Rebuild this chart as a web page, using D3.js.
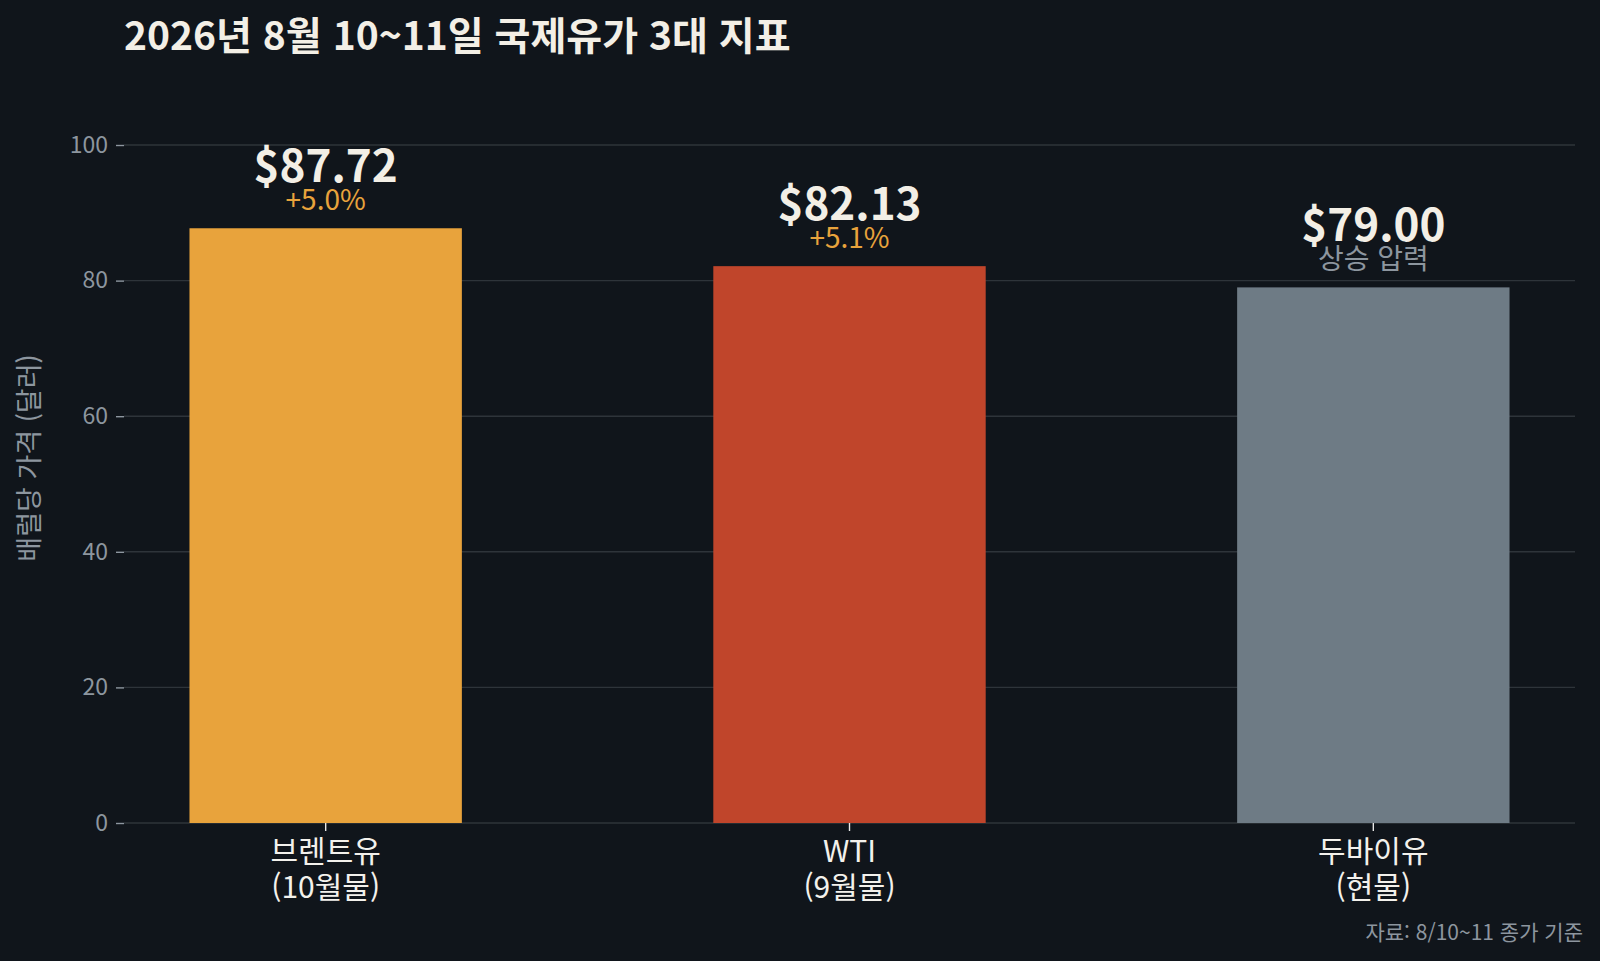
<!DOCTYPE html>
<html lang="ko">
<head>
    <meta charset="UTF-8">
    <title>2026년 8월 10~11일 국제유가 3대 지표</title>
    <script src="https://d3js.org/d3.v7.min.js"></script>
    <style>
        html, body {
            margin: 0;
            padding: 0;
            background: #10151b;
        }
        svg text {
            font-family: "Noto Sans CJK KR", "Noto Sans", sans-serif;
        }
    </style>
</head>
<body>
    <div id="chart"></div>

    <script>
        // chart data
        const categories = ["브렌트유\n(10월물)", "WTI\n(9월물)", "두바이유\n(현물)"];
        const prices = [87.72, 82.13, 79.00];
        const notes = ["+5.0%", "+5.1%", "상승 압력"];
        const yTicks = [0, 20, 40, 60, 80, 100];
        const barColors = ["#e8a33c", "#c0452b", "#6e7b85"];
        const noteColors = ["#e8a33c", "#e8a33c", "#8d969f"];

        const W = 1600, H = 961;
        const margin = { top: 145, right: 25, bottom: 138, left: 124 };

        const svg = d3.select("#chart").append("svg")
            .attr("width", W)
            .attr("height", H);

        svg.append("rect").attr("width", W).attr("height", H).attr("fill", "#10151b");

        const x = d3.scaleBand()
            .domain(d3.range(categories.length))
            .range([margin.left, W - margin.right])
            .paddingInner(0.48)
            .paddingOuter(0.125);

        const y = d3.scaleLinear()
            .domain([0, 100])
            .range([H - margin.bottom, margin.top]);

        // grid lines
        svg.append("g")
            .selectAll("line")
            .data(yTicks)
            .enter().append("line")
            .attr("x1", margin.left)
            .attr("x2", W - margin.right)
            .attr("y1", d => y(d))
            .attr("y2", d => y(d))
            .attr("stroke", "#2e343a")
            .attr("stroke-width", 1.4);

        // y axis
        const yAxis = svg.append("g")
            .attr("transform", `translate(${margin.left},0)`)
            .call(d3.axisLeft(y).tickValues(yTicks).tickSize(8).tickPadding(8));
        yAxis.select(".domain").remove();
        yAxis.selectAll(".tick line").attr("stroke", "#8d969f").attr("stroke-width", 1.4);
        yAxis.selectAll(".tick text")
            .attr("fill", "#8d969f")
            .style("font-size", "23px");

        // bars
        svg.append("g")
            .selectAll("rect")
            .data(prices)
            .enter().append("rect")
            .attr("x", (d, i) => x(i))
            .attr("y", d => y(d))
            .attr("width", x.bandwidth())
            .attr("height", d => y(0) - y(d))
            .attr("fill", (d, i) => barColors[i]);

        // x axis
        const xAxis = svg.append("g")
            .attr("transform", `translate(0,${y(0)})`)
            .call(d3.axisBottom(x).tickSize(8).tickFormat(""));
        xAxis.select(".domain").remove();
        xAxis.selectAll(".tick line").attr("stroke", "#e8e8e8").attr("stroke-width", 1.4);

        xAxis.selectAll(".tick")
            .append("text")
            .attr("fill", "#f3f1ec")
            .attr("text-anchor", "middle")
            .style("font-size", "30px")
            .selectAll("tspan")
            .data((d, i) => categories[i].split("\n"))
            .enter().append("tspan")
            .attr("x", 0)
            .attr("y", (d, j) => 39 + j * 36)
            .text(d => d);

        // value labels
        const labels = svg.append("g")
            .selectAll("g")
            .data(prices)
            .enter().append("g")
            .attr("transform", (d, i) => `translate(${x(i) + x.bandwidth() / 2},${y(d)})`);

        labels.append("text")
            .attr("y", -46)
            .attr("text-anchor", "middle")
            .attr("fill", "#f3efe6")
            .style("font-size", "44px")
            .style("font-weight", "bold")
            .text(d => "$" + d.toFixed(2));

        labels.append("text")
            .attr("y", -18)
            .attr("text-anchor", "middle")
            .attr("fill", (d, i) => noteColors[i])
            .style("font-size", "28px")
            .text((d, i) => notes[i]);

        // title
        svg.append("text")
            .attr("x", 124)
            .attr("y", 50)
            .attr("fill", "#f3efe6")
            .style("font-size", "39px")
            .style("font-weight", "bold")
            .text("2026년 8월 10~11일 국제유가 3대 지표");

        // y axis label
        svg.append("text")
            .attr("transform", "translate(39,458) rotate(-90)")
            .attr("text-anchor", "middle")
            .attr("fill", "#8d969f")
            .style("font-size", "27px")
            .text("배럴당 가격 (달러)");

        // source note
        svg.append("text")
            .attr("x", 1583)
            .attr("y", 940)
            .attr("text-anchor", "end")
            .attr("fill", "#8d969f")
            .style("font-size", "21px")
            .text("자료: 8/10~11 종가 기준");
    </script>
</body>
</html>
